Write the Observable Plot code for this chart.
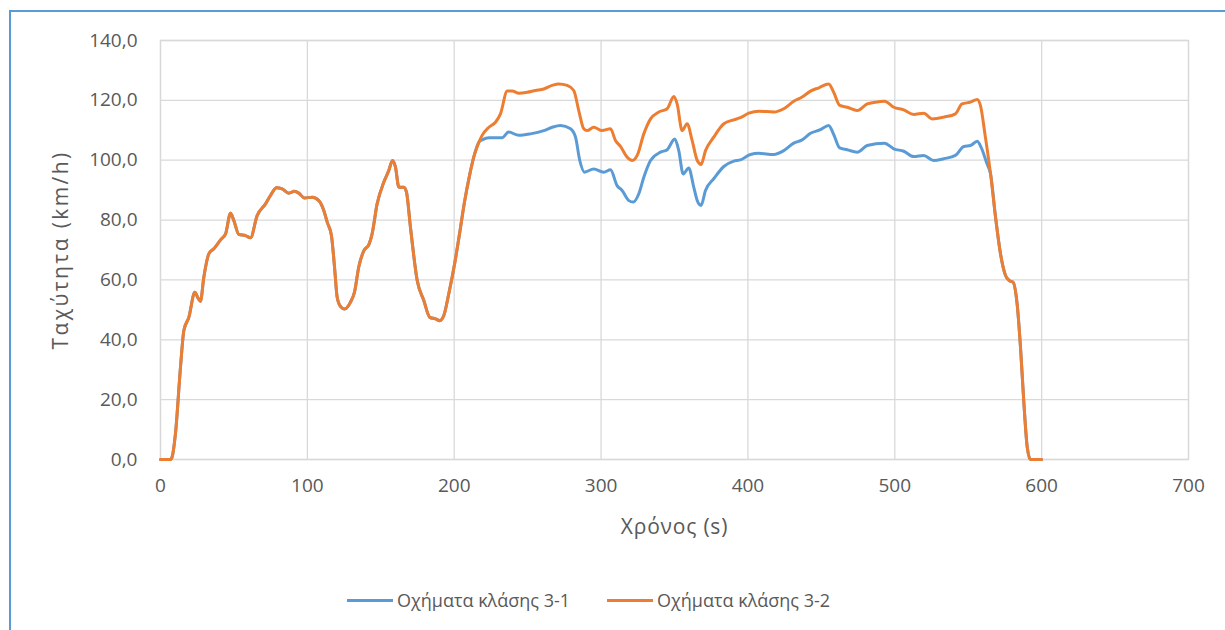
<!DOCTYPE html>
<html>
<head>
<meta charset="utf-8">
<script src="https://cdn.jsdelivr.net/npm/d3@7"></script>
<script src="https://cdn.jsdelivr.net/npm/@observablehq/plot@0.6"></script>
<style>
  html, body { margin: 0; padding: 0; background: #fff; }
  body { width: 1225px; height: 630px; position: relative; overflow: hidden; font-family: "Open Sans", sans-serif; }
  #frame { position: absolute; left: 9px; top: 10px; width: 1300px; height: 700px; border-left: 2px solid #5b9bd5; border-top: 2px solid #5b9bd5; box-sizing: border-box; }
  #chart { position: absolute; left: 0; top: 0; }
  #legend { position: absolute; left: 347px; top: 588px; display: flex; align-items: center; font-size: 18px; color: #595959; }
  .item { display: flex; align-items: center; margin-right: 37px; }
  .sw { width: 46px; height: 3px; margin-right: 4px; }
</style>
</head>
<body>
<div id="frame"></div>
<div id="chart"></div>
<div id="legend"></div>
<script>
// Shared start segment (both series identical)
const timeStart  = [0, 6.8, 8, 10.2, 13.6, 15.9, 19.3, 23.4, 25.5, 27.2, 29.5, 32.9, 36.3, 40.9, 44.3, 47.7, 49.9, 53.3, 57.9, 61.3, 65.8, 71.5, 74.9, 79, 82.8, 87.4, 91.2, 94.2, 98, 103.3, 107.8, 111.2, 113.5, 116.4, 118.5, 120.3, 122.6, 125.3, 129.4, 132.1, 135, 138.5, 141.9, 144.1, 147.5, 152.1, 155.5, 158, 160, 162.3, 165.7, 167.5, 170.2, 174.8, 179.3, 183.4, 187.2, 190.2, 192.9, 196.3, 200.5, 203.5, 207, 210.5, 213.3, 217];
const speedStart = [0, 0, 1, 8.7, 30.8, 43.1, 47.5, 55.9, 54, 52.9, 60.9, 68.7, 70.4, 73.4, 75.4, 82.3, 79.9, 75.2, 74.8, 74.1, 81.5, 85.4, 88.2, 90.8, 90.4, 89, 89.6, 89, 87.4, 87.6, 86.5, 83.2, 79.3, 74.8, 64.3, 54.2, 51.1, 50.3, 52.6, 55.9, 64.3, 69.8, 71.8, 75.4, 85.4, 92.7, 96.6, 99.9, 97.7, 91, 91, 89.3, 77.6, 59.8, 53.1, 47.5, 47, 46.4, 48.1, 55.4, 66, 75, 86, 95, 101, 106.2];

// Middle segment, class 3-1
const time31  = [219, 223.6, 232.6, 237.1, 244, 251.9, 261, 266.7, 272.4, 279.2, 282.6, 285.5, 288.7, 295, 301.8, 306.4, 310.9, 314.3, 318.9, 321.9, 325.7, 329.1, 333.7, 340.5, 345, 350.2, 352.9, 355.9, 359.7, 363.1, 365.5, 368.1, 371.1, 376.7, 383.6, 390.4, 394.9, 401.7, 407.4, 417.6, 424.4, 431.2, 436.9, 442.6, 449.4, 455, 458.4, 462.5, 467.6, 474.4, 481.2, 493, 499.3, 506.1, 512.9, 519.7, 526.5, 533.4, 541.3, 547, 551.5, 556.1, 558.8, 562.8, 565.2];
const speed31 = [106.8, 107.5, 107.5, 109.4, 108.3, 108.8, 109.9, 111, 111.6, 110.5, 107.7, 99.9, 96, 97.1, 96, 96.8, 91.5, 89.9, 86.5, 86, 88.8, 94.3, 99.9, 102.7, 103.5, 107.1, 103.2, 95.4, 97.4, 91, 86.5, 84.9, 89.9, 93.8, 97.9, 99.7, 100.1, 101.9, 102.3, 101.9, 103.2, 105.7, 106.8, 109, 110.2, 111.6, 108.6, 104.1, 103.5, 102.7, 104.9, 105.7, 103.8, 103, 101.2, 101.6, 99.9, 100.5, 101.6, 104.6, 104.9, 106.3, 104.3, 98.8, 95.5];

// Middle segment, class 3-2
const time32  = [219, 223.6, 228.1, 231.5, 236.1, 239.5, 244, 249.7, 255.3, 261, 266.7, 271.2, 276.9, 281.4, 284.8, 288.2, 290.5, 295, 300.7, 306.4, 309.8, 313.2, 317.8, 321.2, 324.6, 329.1, 333.7, 339.3, 345, 349.6, 351.8, 355.2, 358.6, 362, 365.5, 368.1, 371.1, 376.7, 383.6, 390.4, 394.9, 400.6, 407.4, 417.6, 424.4, 431.2, 436.9, 442.6, 448.3, 455, 458.4, 462.5, 467.6, 474.4, 481.2, 486.8, 493, 499.3, 506.1, 512.9, 519.7, 525.4, 533.4, 541.3, 545.8, 551.5, 556.1, 558.3, 561.7, 565.2];
const speed32 = [108.3, 111, 112.7, 115.5, 123.1, 123.1, 122.4, 122.7, 123.3, 123.8, 125, 125.5, 125, 123.3, 116.6, 110.5, 109.9, 111, 109.9, 110.5, 106.6, 104.6, 101, 99.9, 101.6, 108.8, 113.8, 116.1, 117.2, 121.3, 118.8, 109.9, 112.2, 106.6, 99.9, 98.6, 103.2, 107.7, 112.2, 113.5, 114.2, 115.7, 116.4, 116.1, 117.2, 119.7, 121.1, 123.1, 124.2, 125.5, 122.7, 118.3, 117.7, 116.6, 118.8, 119.4, 119.7, 117.7, 116.8, 115.3, 115.7, 113.8, 114.4, 115.5, 118.8, 119.4, 120.3, 118.3, 107.7, 95.5];

// Shared end segment
const timeEnd  = [568.6, 572, 575.4, 578, 580.6, 583.3, 585.6, 587.8, 590.2, 592.4, 600];
const speedEnd = [81, 68.7, 61.5, 59.8, 59.2, 52, 37.5, 19.7, 4.1, 0, 0];

const seriesNames  = ["Οχήματα κλάσης 3-1", "Οχήματα κλάσης 3-2"];
const seriesColors = ["#5b9bd5", "#ed7d31"];
const xTicks = [0, 100, 200, 300, 400, 500, 600, 700];
const yTicks = [0, 20, 40, 60, 80, 100, 120, 140];
const xTitle = "Χρόνος (s)";
const yTitle = "Ταχύτητα (km/h)";

function build(name, tMid, vMid) {
  const t = [...timeStart, ...tMid, ...timeEnd];
  const v = [...speedStart, ...vMid, ...speedEnd];
  return t.map((x, i) => ({series: name, t: x, v: v[i]}));
}
const data = [
  ...build(seriesNames[0], time31, speed31),
  ...build(seriesNames[1], time32, speed32)
];

const fmt = d => d.toFixed(1).replace(".", ",");

const chart = Plot.plot({
  width: 1225,
  height: 560,
  marginLeft: 160,
  marginRight: 37,
  marginTop: 40,
  marginBottom: 101,
  style: {fontFamily: "'Open Sans', sans-serif", fontSize: "19px", color: "#595959", background: "transparent"},
  x: {domain: [0, 700], ticks: xTicks},
  y: {domain: [0, 140], ticks: yTicks},
  color: {domain: seriesNames, range: seriesColors},
  marks: [
    Plot.gridX(xTicks, {stroke: "#d9d9d9", strokeOpacity: 1, strokeWidth: 1.3}),
    Plot.gridY(yTicks, {stroke: "#d9d9d9", strokeOpacity: 1, strokeWidth: 1.3}),
    Plot.frame({stroke: "#d9d9d9", strokeWidth: 1.3}),
    Plot.axisX(xTicks, {tickSize: 0, tickPadding: 19, tickFormat: d => String(d), label: xTitle, labelAnchor: "center", labelOffset: 74, fontSize: 19, fill: "#595959"}),
    Plot.axisY(yTicks, {tickSize: 0, tickPadding: 23, tickFormat: fmt, label: yTitle, labelAnchor: "center", labelOffset: 107, fontSize: 19, fill: "#595959"}),
    Plot.line(data, {x: "t", y: "v", z: "series", stroke: "series", strokeWidth: 3, curve: "monotone-x"})
  ]
});
chart.querySelectorAll("text").forEach(t => {
  const s = t.textContent;
  if (s.includes("→") || s.includes("↑") || s === xTitle || s === yTitle) {
    const clean = s.replace(/\s*[→↑←↓]\s*/g, "").trim();
    t.textContent = clean;
    t.style.fontSize = "21px";
    t.style.letterSpacing = clean === yTitle ? "2.4px" : "0.8px";
  }
});
document.getElementById("chart").appendChild(chart);

const legend = document.getElementById("legend");
seriesNames.forEach((n, i) => {
  const it = document.createElement("div");
  it.className = "item";
  const sw = document.createElement("div");
  sw.className = "sw";
  sw.style.background = seriesColors[i];
  const tx = document.createElement("span");
  tx.textContent = n;
  it.appendChild(sw); it.appendChild(tx);
  legend.appendChild(it);
});
</script>
</body>
</html>
